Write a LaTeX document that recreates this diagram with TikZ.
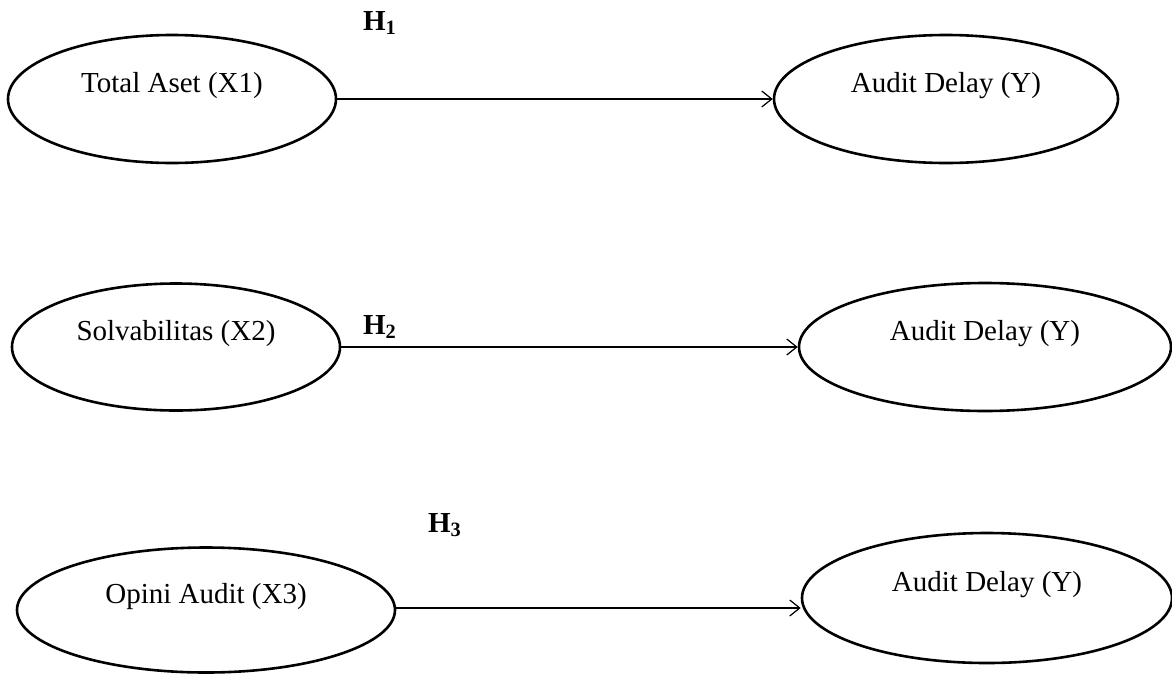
\documentclass[tikz,border=0pt]{standalone}
\usepackage{fontspec}
\setmainfont{Liberation Serif}
\usetikzlibrary{shapes.geometric,arrows.meta}
\tikzset{
  var/.style={draw=black, ellipse, line width=1.3pt, inner sep=0pt,
    label={[yshift=6.5pt, font=\fontsize{14.5}{17}\selectfont]center:#1}},
  hyp/.style={font=\fontsize{14.5}{17}\selectfont\bfseries},
  link/.style={line width=0.7pt, -{Straight Barb[length=5pt,width=8pt,line width=0.6pt]}}
}
\begin{document}
\begin{tikzpicture}[x=0.5pt,y=-0.5pt]
  %[every node/.style={draw=black}]
  \useasboundingbox (0,0) rectangle (1172,675);
  \node[var={Total Aset (X1)}, minimum width=164pt, minimum height=64pt] (ta) at (172,99) {};
  \node[var={Audit Delay (Y)}, minimum width=172pt, minimum height=64pt] (ad1) at (946,99) {};
  \node[var={Solvabilitas (X2)}, minimum width=164pt, minimum height=63.5pt] (sv) at (176,347) {};
  \node[var={Audit Delay (Y)}, minimum width=186pt, minimum height=64pt] (ad2) at (985,347) {};
  \node[var={Opini Audit (X3)}, minimum width=189pt, minimum height=62.5pt] (oa) at (206,610) {};
  \node[var={Audit Delay (Y)}, minimum width=185pt, minimum height=65pt] (ad3) at (987,598) {};

  \node[hyp] (h1) at (380,23) {H\textsubscript{1}};
  \node[hyp] (h2) at (380,327) {H\textsubscript{2}};
  \node[hyp] (h3) at (445,525) {H\textsubscript{3}};

  \draw[link] (ta.east) -- (ad1.west);
  \draw[link] (sv.east) -- (ad2.west);
  \draw[link] ([yshift=1pt]oa.east) -- ([yshift=1pt]oa.east -| ad3.west);
\end{tikzpicture}
\end{document}
